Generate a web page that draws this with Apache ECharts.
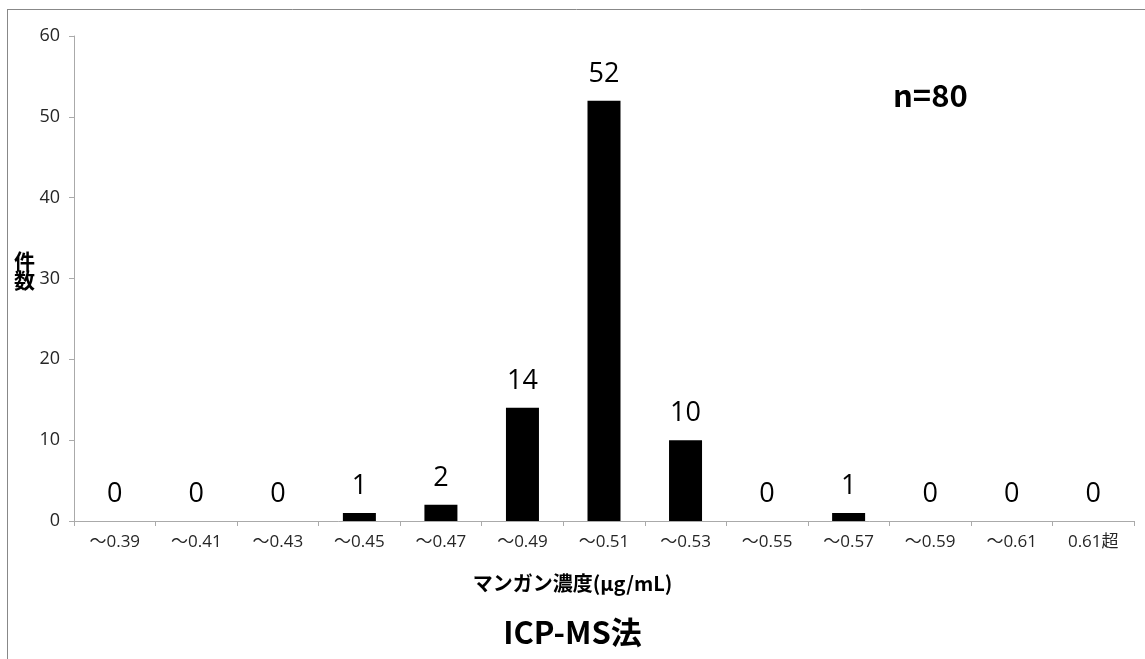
<!DOCTYPE html>
<html><head><meta charset="utf-8">
<script src="https://cdn.jsdelivr.net/npm/echarts@6/dist/echarts.min.js"></script>
<style>html,body{margin:0;padding:0;background:#fff}#c{width:1145px;height:659px}</style>
</head><body><div id="c"></div>
<script>
const categories = ['～0.39','～0.41','～0.43','～0.45','～0.47','～0.49','～0.51','～0.53','～0.55','～0.57','～0.59','～0.61','0.61超'];
const counts = [0,0,0,1,2,14,52,10,0,1,0,0,0];
const yTicks = [0,10,20,30,40,50,60];
const FONT = '"Open Sans", "Noto Sans CJK JP", sans-serif';
const CJK = '"Noto Sans CJK JP", sans-serif';
const chart = echarts.init(document.getElementById('c'));
chart.setOption({
  animation:false,
  backgroundColor:'#fff',
  textStyle:{fontFamily:FONT},
  grid:{left:74,right:11,top:36,bottom:138,containLabel:false},
  title:{text:'ICP-MS法',left:'center',top:612,textStyle:{fontSize:31,fontWeight:'bold',color:'#000',fontFamily:CJK}},
  graphic:[
    {type:'line',shape:{x1:8,y1:9.5,x2:1145,y2:9.5},style:{stroke:'#888',lineWidth:1}},
    {type:'line',shape:{x1:7.5,y1:9,x2:7.5,y2:659},style:{stroke:'#888',lineWidth:1}},
    {type:'text',left:893,top:80,style:{text:'n=80',fontSize:31,fontWeight:'bold',fill:'#000',fontFamily:CJK}},
    {type:'text',left:'center',top:573,style:{text:'マンガン濃度(µg/mL)',fontSize:20,fontWeight:'bold',fill:'#000',fontFamily:CJK}},
    {type:'text',left:14,top:251,style:{text:'件\n数',fontSize:21,lineHeight:19,fontWeight:'bold',fill:'#000',fontFamily:CJK}}
  ],
  xAxis:{type:'category',data:categories,
    axisLine:{lineStyle:{color:'#aaa'}},
    axisTick:{show:true,length:5,lineStyle:{color:'#aaa'},alignWithLabel:false},
    axisLabel:{color:'#262626',fontSize:17,margin:13,interval:0,fontFamily:FONT}},
  yAxis:{type:'value',min:yTicks[0],max:yTicks[yTicks.length-1],interval:10,
    axisLine:{show:true,lineStyle:{color:'#aaa'}},
    axisTick:{show:true,length:5,lineStyle:{color:'#aaa'}},
    splitLine:{show:false},
    axisLabel:{color:'#262626',fontSize:18,margin:14,fontFamily:FONT}},
  series:[{type:'bar',data:counts,barWidth:33,itemStyle:{color:'#000'},
    label:{show:true,position:'top',distance:13,fontSize:27,color:'#000',fontFamily:FONT}}]
});
</script></body></html>
